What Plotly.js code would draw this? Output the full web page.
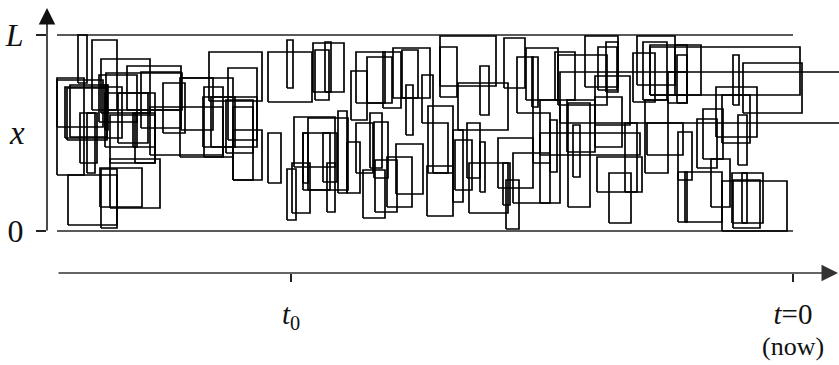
<!DOCTYPE html>
<html>
<head>
<meta charset="utf-8">
<script src="https://cdn.plot.ly/plotly-3.0.1.min.js"></script>
<style>html,body{margin:0;padding:0;background:#fff;}#chart{width:839px;height:365px;}</style>
</head>
<body>
<div id="chart"></div>
<script>
// Time: t=0 is "now", t0 is the start time; position x runs from 0 to L
const L = 196;
const T0 = -502;
const T_START = -736;
const T_NOW = 0;
const X_MARK = 98;

const tickTimes = [T0, T_NOW];
const tickTimeLabels = ['<i>t</i><sub>0</sub>', '<i>t</i>=0'];
const nowLabel = '(now)';
const tickPos = [0, L];
const tickPosLabels = ['0', '<i>L</i>'];

// rectangles: time interval [rectLeft, rectRight] x position interval [rectLo, rectHi]
const rectLeft = [-715,-701,-692,-666,-652,-736,-728,-723,-736,-694,-675,-683,-658,-630,-613,-706,-713,-660,-688,-726,-687,-725,-692,-683,-693,
-584,-565,-589,-582,-567,-560,-612,-643,-525,-525,-506,-480,-478,-468,-499,-490,-485,-470,-455,-446,-466,-501,-506,-490,
-437,-442,-426,-410,-400,-391,-387,-371,-353,-353,-335,-313,-289,-276,-267,-261,-365,-360,-366,-340,-338,-326,-324,-313,-287,-295,-280,-260,-290,-437,-423,-419,-430,-418,-397,-406,
-238,-235,-208,-195,-187,-198,-156,-150,-160,-143,-118,-125,-116,-143,-233,-50,-60,-77,-71,-55,-90,-96,-115,-108,-71,-61,-60,-51,-115,-184,-196,-168,-148,-253,-226,-225,-243,-220,-198,-82,-146,-253,
-688,-590,-560];
const rectRight = [-706,-676,-643,-612,-612,-709,-671,-686,-690,-656,-645,-638,-638,-608,-560,-698,-696,-656,-685,-686,-611,-676,-676,-633,-651,
-531,-536,-570,-558,-540,-531,-580,-570,-512,-481,-500,-449,-464,-462,-458,-485,-445,-456,-446,-433,-458,-483,-497,-463,
-408,-426,-401,-392,-363,-375,-380,-360,-297,-336,-285,-304,-268,-260,-235,-255,-340,-345,-340,-330,-321,-313,-285,-308,-274,-260,-243,-243,-283,-420,-411,-405,-408,-396,-370,-381,
-218,-186,-175,-176,-175,-163,-118,-126,-138,-106,-92,-106,-106,7,52,9,-54,-36,-43,-46,-70,-76,-101,-71,-6,-30,-33,-46,-106,-162,-151,-156,-125,-233,-198,-203,-236,-213,-171,-63,-110,-153,
-638,-536,-540];
const rectLo = [148,121,118,121,103,56,93,94,104,109,88,68,68,98,74,58,68,84,101,91,121,6,3,23,24,
130,91,74,84,78,51,101,76,48,129,143,139,131,139,64,48,41,49,38,38,19,18,11,41,
128,111,128,123,133,133,96,108,145,134,101,116,143,118,131,124,58,58,15,29,41,53,18,39,2,43,28,68,26,58,63,53,13,19,37,24,
131,126,144,141,139,106,146,131,129,136,136,128,128,136,108,118,126,94,88,66,72,63,51,9,0,8,3,8,9,8,39,39,58,28,79,24,59,54,84,24,76,76,
84,84,51];
const rectHi = [196,191,172,165,159,153,144,146,151,156,138,116,118,148,153,118,118,118,146,143,158,56,62,72,63,
179,163,144,134,131,101,153,124,98,179,191,188,181,189,114,98,113,98,120,89,68,68,62,98,
179,160,174,179,183,181,146,156,195,184,148,165,193,174,183,174,125,108,65,101,91,108,68,89,51,93,78,118,68,108,118,109,61,71,87,74,
179,176,195,184,189,155,195,189,178,186,186,159,176,184,159,168,176,144,136,116,122,112,99,59,50,58,51,58,59,58,74,108,131,131,131,128,111,106,134,72,108,98,
138,134,124];

const rx = [], ry = [];
for (let i = 0; i < rectLeft.length; i++) {
  const a = rectLeft[i], b = rectRight[i], lo = rectLo[i], hi = rectHi[i];
  rx.push(a, b, b, a, a, null);
  ry.push(lo, lo, hi, hi, lo, null);
}

const bx = [], by = [];
tickPos.forEach(p => { bx.push(T_START, T_NOW, null); by.push(p, p, null); });

const FONT = 'Liberation Serif, DejaVu Serif, serif';

const traces = [
  {type: 'scatter', mode: 'lines', x: bx, y: by, line: {color: '#222', width: 1.6}, hoverinfo: 'skip', showlegend: false},
  {type: 'scatter', mode: 'lines', x: rx, y: ry, line: {color: '#000', width: 1.7}, hoverinfo: 'skip', showlegend: false}
];

const layout = {
  width: 839, height: 365,
  margin: {l: 47, r: 0, t: 5, b: 92},
  paper_bgcolor: '#fff', plot_bgcolor: '#fff',
  showlegend: false,
  font: {family: FONT, size: 30, color: '#111'},
  xaxis: {
    range: [-746, 46], showgrid: false, zeroline: false, showline: false,
    tickmode: 'array', tickvals: tickTimes, ticktext: tickTimeLabels,
    ticks: 'outside', ticklen: 8, tickwidth: 1.2, tickcolor: '#222',
    ticklabelstandoff: 7,
    tickfont: {family: FONT, size: 29, color: '#111'}, fixedrange: true
  },
  yaxis: {
    range: [-42, 226], showgrid: false, zeroline: false, showline: false,
    tickmode: 'array', tickvals: tickPos, ticktext: tickPosLabels,
    ticks: 'outside', ticklen: 10, tickwidth: 1.4, tickcolor: '#222',
    ticklabelstandoff: 6,
    tickfont: {family: FONT, size: 32, color: '#111'}, fixedrange: true
  },
  annotations: [
    {xref: 'paper', yref: 'y', x: 0, y: X_MARK, xshift: -30, text: '<i>x</i>', showarrow: false,
     font: {family: FONT, size: 33, color: '#111'}, xanchor: 'center', yanchor: 'middle'},
    {xref: 'x', yref: 'paper', x: T_NOW, y: 0, yshift: -73, text: nowLabel, showarrow: false,
     font: {family: FONT, size: 26, color: '#111'}, xanchor: 'center', yanchor: 'middle'},
    {xref: 'paper', yref: 'paper', x: 0, y: 1 - 3/268, ax: 0, ay: 224, axref: 'pixel', ayref: 'pixel',
     text: '', showarrow: true, arrowhead: 2, arrowsize: 2.2, arrowwidth: 1.5, arrowcolor: '#111'},
    {xref: 'paper', yref: 'paper', x: 791/792, y: 0, ax: -781, ay: 0, axref: 'pixel', ayref: 'pixel',
     text: '', showarrow: true, arrowhead: 2, arrowsize: 2.2, arrowwidth: 1.5, arrowcolor: '#333'}
  ]
};

Plotly.newPlot('chart', traces, layout, {staticPlot: true, displayModeBar: false});
</script>
</body>
</html>
